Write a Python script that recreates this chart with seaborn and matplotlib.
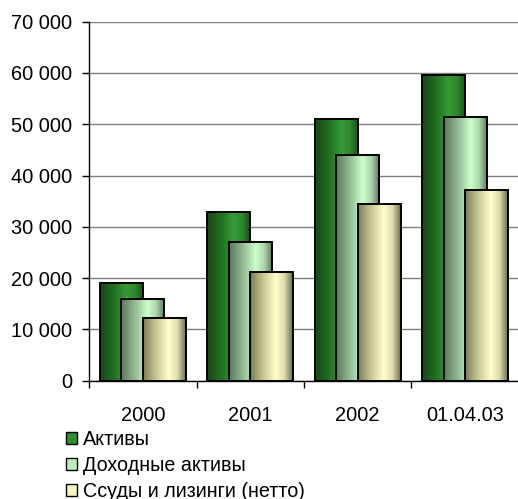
import numpy as np
import pandas as pd
import matplotlib
matplotlib.use("Agg")
import matplotlib.pyplot as plt
import seaborn as sns
from matplotlib.colors import LinearSegmentedColormap
from matplotlib.patches import Patch
from matplotlib.ticker import FuncFormatter, MultipleLocator, FixedLocator

# Balance-sheet figures by period
periods = ["2000", "2001", "2002", "01.04.03"]
series = ["Активы", "Доходные активы", "Ссуды и лизинги (нетто)"]
assets = [19000, 32800, 51100, 59700]
earning_assets = [16000, 27000, 44000, 51400]
loans_net = [12200, 21200, 34400, 37200]

df = pd.DataFrame({
    "period": periods * 3,
    "series": np.repeat(series, len(periods)),
    "value": assets + earning_assets + loans_net,
})

# Cylinder-like horizontal shading for each series
shades = {
    "Активы": [(0, "#174517"), (0.35, "#237423"), (0.62, "#359c35"),
               (0.82, "#2d882d"), (1, "#1b521b")],
    "Доходные активы": [(0, "#5c785c"), (0.35, "#98c098"), (0.62, "#ccffcc"),
                        (0.82, "#aed6ae"), (1, "#607c60")],
    "Ссуды и лизинги (нетто)": [(0, "#7c7c56"), (0.3, "#c6c694"), (0.6, "#ffffcc"),
                                (0.8, "#dedeae"), (1, "#6c6c4e")],
}
cmaps = {k: LinearSegmentedColormap.from_list(k, v) for k, v in shades.items()}
mid_colors = {k: cmaps[k](0.55) for k in series}

plt.rcParams["font.family"] = ["Liberation Sans", "DejaVu Sans"]

fig = plt.figure(figsize=(5.18, 4.99), dpi=100)
ax = fig.add_axes([89 / 518, (499 - 380.7) / 499, 430 / 518, 359 / 499])

sns.barplot(data=df, x="period", y="value", hue="series", order=periods,
            hue_order=series, palette=mid_colors, width=0.6, dodge=True,
            saturation=1, legend=False, edgecolor="black", linewidth=1.4, ax=ax)

grad = np.linspace(0, 1, 256).reshape(1, -1)
bar_w = 0.4
for i, (name, cont) in enumerate(zip(series, ax.containers)):
    for bar in cont:
        cx = bar.get_x() + bar.get_width() / 2
        bar.set_x(cx - bar_w / 2)
        bar.set_width(bar_w)
        bar.set_facecolor("none")
        bar.set_zorder(3 + 2 * i + 1)
        h = bar.get_height()
        im = ax.imshow(grad, cmap=cmaps[name], aspect="auto",
                       extent=(cx - bar_w / 2, cx + bar_w / 2, 0, h),
                       interpolation="bilinear", zorder=3 + 2 * i)
        im.set_clip_path(bar)

ax.set_xlim(-0.5, 3.5)
ax.set_ylim(0, 70000)
ax.set_xlabel("")
ax.set_ylabel("")

ax.yaxis.set_major_locator(MultipleLocator(10000))
ax.yaxis.set_major_formatter(FuncFormatter(lambda v, p: f"{int(v):,}".replace(",", " ")))
ax.yaxis.grid(True, color="#7f7f7f", linewidth=1.0, zorder=0.5)
ax.set_axisbelow(True)
gl = ax.get_ygridlines()
gl[-1].set_color("#b8b8b8")

ax.xaxis.set_minor_locator(FixedLocator([-0.5, 0.5, 1.5, 2.5, 3.5]))
ax.tick_params(axis="x", which="major", length=0, pad=18.5, labelsize=14.4)
ax.tick_params(axis="x", which="minor", length=5, width=1, color="black", direction="out")
ax.tick_params(axis="y", which="major", length=5, width=1, color="black",
               direction="out", pad=7, labelsize=14.4)

for s in ("top", "right"):
    ax.spines[s].set_visible(False)
for s in ("left", "bottom"):
    ax.spines[s].set_color("black")
    ax.spines[s].set_linewidth(1.0)
    ax.spines[s].set_zorder(10)

handles = [Patch(facecolor=mid_colors[k], edgecolor="black", linewidth=1.0) for k in series]
fig.legend(handles, series, loc="upper left", bbox_to_anchor=(66 / 518, 1 - 430 / 499),
           frameon=False, fontsize=14.2, handlelength=0.55, handleheight=0.55,
           handletextpad=0.3, labelspacing=0.35, borderpad=0, borderaxespad=0)

fig.savefig("out.png", dpi=100)
